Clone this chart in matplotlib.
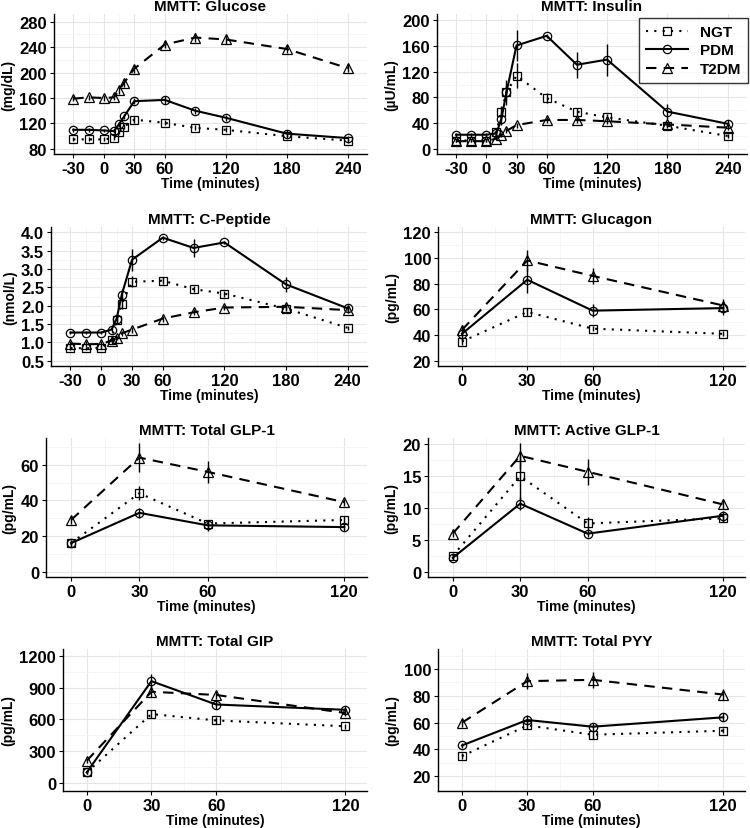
import matplotlib
matplotlib.use("Agg")
import matplotlib.pyplot as plt
from matplotlib.ticker import MultipleLocator, FixedLocator
import numpy as np

plt.rcParams['font.family'] = ['Liberation Sans', 'DejaVu Sans']
plt.rcParams['font.weight'] = 'bold'
plt.rcParams['axes.unicode_minus'] = False

groups = ["NGT", "PDM", "T2DM"]

# long time course (glucose, insulin, c-peptide)
t_long = [-30, -15, 0, 10, 15, 20, 30, 60, 90, 120, 180, 240]
t_short = [0, 30, 60, 120]

glucose = {
    "NGT":  [95, 95, 95, 97, 107, 115, 126, 121, 113, 110, 100, 93],
    "PDM":  [110, 110, 109, 108, 119, 131, 155, 157, 140, 129, 104, 97],
    "T2DM": [159, 161, 160, 161, 172, 184, 206, 244, 255, 252, 237, 207],
}
glucose_se = {
    "NGT":  [3, 3, 3, 3, 3, 4, 5, 4, 4, 4, 3, 3],
    "PDM":  [3, 3, 3, 3, 4, 4, 5, 6, 5, 5, 5, 4],
    "T2DM": [4, 4, 4, 4, 5, 6, 6, 6, 7, 7, 7, 6],
}

insulin = {
    "NGT":  [13, 13, 13, 27, 58, 88, 114, 79, 58, 49, 36, 20],
    "PDM":  [22, 22, 22, 24, 47, 88, 161, 176, 131, 139, 58, 39],
    "T2DM": [12, 12, 12, 16, 21, 28, 37, 45, 45, 43, 38, 33],
}
insulin_se = {
    "NGT":  [2, 2, 2, 4, 8, 12, 20, 8, 6, 5, 4, 3],
    "PDM":  [3, 3, 3, 4, 10, 20, 24, 3, 20, 25, 12, 6],
    "T2DM": [2, 2, 2, 2, 3, 4, 4, 4, 4, 4, 4, 4],
}

cpep = {
    "NGT":  [0.85, 0.84, 0.86, 1.08, 1.62, 2.05, 2.65, 2.68, 2.45, 2.33, 1.92, 1.40],
    "PDM":  [1.27, 1.27, 1.27, 1.35, 1.65, 2.30, 3.25, 3.85, 3.57, 3.72, 2.58, 1.93],
    "T2DM": [0.97, 0.95, 0.96, 1.05, 1.12, 1.25, 1.35, 1.65, 1.82, 1.95, 1.97, 1.88],
}
cpep_se = {
    "NGT":  [0.05, 0.05, 0.05, 0.06, 0.08, 0.15, 0.15, 0.1, 0.08, 0.08, 0.07, 0.06],
    "PDM":  [0.05, 0.05, 0.05, 0.06, 0.1, 0.15, 0.3, 0.05, 0.25, 0.05, 0.2, 0.1],
    "T2DM": [0.08, 0.08, 0.08, 0.06, 0.06, 0.07, 0.08, 0.08, 0.08, 0.08, 0.08, 0.08],
}

glucagon = {
    "NGT":  [35, 58, 45, 41],
    "PDM":  [41, 83, 59, 61],
    "T2DM": [44, 98, 86, 63],
}
glucagon_se = {
    "NGT":  [3, 3, 2, 2],
    "PDM":  [4, 10, 5, 5],
    "T2DM": [4, 8, 6, 5],
}

tglp1 = {
    "NGT":  [16, 44, 27, 29],
    "PDM":  [16, 33, 26, 25],
    "T2DM": [29, 64, 56, 39],
}
tglp1_se = {
    "NGT":  [2, 4, 2, 2],
    "PDM":  [2, 3, 3, 2],
    "T2DM": [2, 8, 6, 2],
}

aglp1 = {
    "NGT":  [2.5, 15.0, 7.6, 8.4],
    "PDM":  [2.2, 10.7, 6.0, 8.8],
    "T2DM": [6.0, 18.2, 15.7, 10.6],
}
aglp1_se = {
    "NGT":  [0.4, 4.0, 1.0, 0.6],
    "PDM":  [0.3, 1.0, 0.5, 0.8],
    "T2DM": [0.5, 2.0, 2.0, 0.8],
}

gip = {
    "NGT":  [100, 650, 590, 535],
    "PDM":  [100, 960, 740, 690],
    "T2DM": [210, 860, 830, 660],
}
gip_se = {
    "NGT":  [15, 40, 35, 25],
    "PDM":  [15, 70, 40, 40],
    "T2DM": [20, 50, 40, 30],
}

pyy = {
    "NGT":  [35, 58, 51, 54],
    "PDM":  [43, 62, 57, 64],
    "T2DM": [60, 91, 92, 81],
}
pyy_se = {
    "NGT":  [2, 3, 3, 2],
    "PDM":  [2, 4, 3, 3],
    "T2DM": [3, 6, 6, 4],
}

styles = {
    "NGT":  dict(ls=(0, (1, 3)), marker="s", ms=6),
    "PDM":  dict(ls="-", marker="o", ms=6),
    "T2DM": dict(ls=(0, (5, 3.5)), marker="^", ms=7.5),
}

W, H = 750, 829
fig = plt.figure(figsize=(W / 100, H / 100), dpi=100)


def make_panel(rect, title, ylabel, t, data, se, xlim, ylim, xticks, yticks, ystep):
    l, top, r, b = rect
    ax = fig.add_axes([l / W, 1 - b / H, (r - l) / W, (b - top) / H])
    for g in groups:
        ax.errorbar(t, data[g], yerr=se[g], fmt="none", ecolor="black",
                    elinewidth=1, capsize=0, zorder=3)
        ax.plot(t, data[g], color="black", lw=1.5, ls=styles[g]["ls"],
                marker=styles[g]["marker"], ms=styles[g]["ms"], mfc="none",
                mec="black", mew=0.9, label=g, zorder=4)
    ax.set_xlim(*xlim)
    ax.set_ylim(*ylim)
    ax.xaxis.set_major_locator(FixedLocator(xticks))
    ax.yaxis.set_major_locator(FixedLocator(yticks))
    xt = np.array(xticks, dtype=float)
    ax.xaxis.set_minor_locator(FixedLocator(list((xt[:-1] + xt[1:]) / 2)))
    ax.yaxis.set_minor_locator(MultipleLocator(ystep / 2))
    ax.grid(which="major", color="#e6e6e6", lw=0.8)
    ax.grid(which="minor", color="#f2f2f2", lw=0.5)
    ax.set_axisbelow(True)
    for s in ["top", "right"]:
        ax.spines[s].set_visible(False)
    for s in ["left", "bottom"]:
        ax.spines[s].set_linewidth(1.0)
    ax.tick_params(which="major", length=3, width=0.8, labelsize=12, pad=2)
    ax.tick_params(which="minor", length=0)
    for lab in ax.get_xticklabels() + ax.get_yticklabels():
        lab.set_fontweight("bold")
    ax.set_title(title, fontsize=11, fontweight="bold", pad=3)
    ax.set_xlabel("Time (minutes)", fontsize=10, fontweight="bold", labelpad=0)
    ax.set_ylabel(ylabel, fontsize=10, fontweight="bold", labelpad=3)
    return ax


xl_long = [-30, 0, 30, 60, 120, 180, 240]
xl_short = [0, 30, 60, 120]

make_panel((54, 15, 367, 155), "MMTT: Glucose", "(mg/dL)", t_long, glucose, glucose_se,
           (-49, 259), (72, 292), xl_long, [80, 120, 160, 200, 240, 280], 40)
ax_ins = make_panel((437, 15, 747, 155), "MMTT: Insulin", "(\u00b5U/mL)", t_long, insulin, insulin_se,
                    (-49, 259), (-8, 210), xl_long, [0, 40, 80, 120, 160, 200], 40)
make_panel((51, 228, 367, 367), "MMTT: C-Peptide", "(nmol/L)", t_long, cpep, cpep_se,
           (-49, 259), (0.36, 4.14), xl_long, [0.5, 1.0, 1.5, 2.0, 2.5, 3.0, 3.5, 4.0], 0.5)
make_panel((438, 228, 745, 367), "MMTT: Glucagon", "(pg/mL)", t_short, glucagon, glucagon_se,
           (-11, 130), (16, 124), xl_short, [20, 40, 60, 80, 100, 120], 20)
make_panel((46, 439, 367, 578), "MMTT: Total GLP-1", "(pg/mL)", t_short, tglp1, tglp1_se,
           (-11, 130), (-3, 75), xl_short, [0, 20, 40, 60], 20)
make_panel((428, 439, 745, 578), "MMTT: Active GLP-1", "(pg/mL)", t_short, aglp1, aglp1_se,
           (-11, 130), (-0.8, 21), xl_short, [0, 5, 10, 15, 20], 5)
make_panel((63, 650, 367, 792), "MMTT: Total GIP", "(pg/mL)", t_short, gip, gip_se,
           (-11, 130), (-75, 1263), xl_short, [0, 300, 600, 900, 1200], 300)
make_panel((438, 650, 745, 792), "MMTT: Total PYY", "(pg/mL)", t_short, pyy, pyy_se,
           (-11, 130), (9, 115), xl_short, [20, 40, 60, 80, 100], 20)

leg = ax_ins.legend(loc="upper right", bbox_to_anchor=(748 / W, 1 - 19 / H),
                    bbox_transform=fig.transFigure, frameon=True, fancybox=False,
                    edgecolor="black", handlelength=2.7, fontsize=11,
                    borderpad=0.45, labelspacing=0.3, handletextpad=0.8,
                    borderaxespad=0)
leg.get_frame().set_linewidth(1.0)
for txt in leg.get_texts():
    txt.set_fontweight("bold")

fig.savefig("out.png", dpi=100)
